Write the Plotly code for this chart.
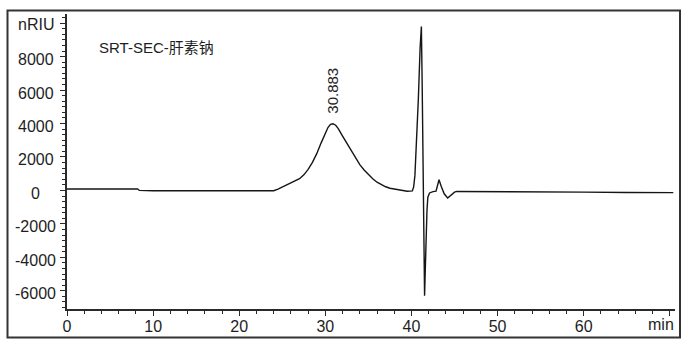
import plotly.graph_objects as go

# --- data (retention time in min, signal in nRIU) ---
time = [0, 4, 8.2, 8.4, 10, 15, 20, 24.0, 24.5, 25, 25.5, 26, 26.5, 27, 27.5, 28, 28.5,
        29, 29.5, 30, 30.3, 30.6, 30.883, 31.2, 31.5, 32, 32.5, 33, 33.5, 34, 34.5,
        35, 35.5, 36, 36.5, 37, 37.5, 38, 38.5, 39, 39.5, 40.1, 40.25, 40.4, 40.55,
        40.8, 41.0, 41.15, 41.25, 41.35, 41.45, 41.52, 41.6, 41.7, 41.8, 41.9, 42.1,
        42.5, 42.85, 43.0, 43.2, 43.45, 43.8, 44.2, 44.6, 45.0, 45.25, 47, 50, 55,
        60, 65, 70.4]
signal = [85, 85, 85, 0, -20, -20, 0, -20, 80, 200, 300, 420, 550, 700, 930, 1260, 1680,
          2200, 2830, 3420, 3760, 3950, 3990, 3900, 3700, 3250, 2820, 2380, 1950, 1540, 1220,
          930, 700, 490, 340, 220, 130, 80, 20, -20, -50, -30, 200, 900, 2500,
          5500, 8500, 9800, 6000, 0, -4500, -6300, -4800, -2500, -1200, -400, -150,
          -70, -40, 250, 640, 250, -200, -450, -250, -100, -60, -60, -80, -90,
          -100, -120, -130]

peak_time = 30.883
peak_value = 3990
peak_label = "30.883"
title_text = "SRT-SEC-肝素钠"
x_unit = "min"

x_tickvals = [0, 10, 20, 30, 40, 50, 60, 70]
x_ticktext = ["0", "10", "20", "30", "40", "50", "60", ""]
y_tickvals = [-6000, -4000, -2000, 0, 2000, 4000, 6000, 8000, 10000]
y_ticktext = ["-6000", "-4000", "-2000", "0", "2000", "4000", "6000", "8000", "nRIU"]

FONT = "Liberation Sans, Arial, Noto Sans CJK SC, sans-serif"
AX = "#2a2a2a"
TXT = "#1e1e1e"
FS = 16

fig = go.Figure()
fig.add_trace(go.Scatter(x=time, y=signal, mode="lines",
                         line=dict(color="#151515", width=1.4),
                         hoverinfo="skip", showlegend=False))

# plot geometry (pixels)
L, R, T, B = 67, 15, 14, 44.5
W = 690 - L - R
H = 354 - T - B

def px_x(p):
    return (p - L) / W

def px_y(p):
    return (354 - B - p) / H

annotations = []
for v, t in zip(y_tickvals, y_ticktext):
    annotations.append(dict(x=px_x(35.5), xref="paper", y=v, yref="y", text=t,
                            showarrow=False, xanchor="center", yanchor="middle",
                            yshift=-1 if t == "nRIU" else -3,
                            font=dict(family=FONT, size=FS, color=TXT)))
annotations.append(dict(x=peak_time, y=peak_value, xref="x", yref="y", text=peak_label,
                        textangle=-90, showarrow=False, xanchor="center", yanchor="bottom",
                        yshift=8, font=dict(family=FONT, size=15, color=TXT)))
annotations.append(dict(x=px_x(97), y=px_y(48), xref="paper", yref="paper", text=title_text,
                        showarrow=False, xanchor="left", yanchor="middle",
                        font=dict(family=FONT, size=15, color=TXT)))
annotations.append(dict(x=px_x(676), y=px_y(325), xref="paper", yref="paper", text=x_unit,
                        showarrow=False, xanchor="right", yanchor="middle",
                        font=dict(family=FONT, size=FS, color=TXT)))

fig.update_layout(
    width=690, height=354,
    margin=dict(l=L, r=R, t=T, b=B, pad=0),
    paper_bgcolor="white", plot_bgcolor="white",
    font=dict(family=FONT, size=FS, color=TXT),
    annotations=annotations,
    shapes=[dict(type="rect", xref="paper", yref="paper",
                 x0=px_x(7.5), x1=px_x(680), y0=px_y(338), y1=px_y(10.5),
                 line=dict(color="#333", width=2), fillcolor="rgba(0,0,0,0)")],
    xaxis=dict(range=[0, 70.6], tickmode="array", tickvals=x_tickvals, ticktext=x_ticktext,
               showgrid=False, zeroline=False, showline=True, linecolor=AX, linewidth=1.5,
               ticks="outside", ticklen=5, tickwidth=1.2, tickcolor=AX,
               ticklabelstandoff=-3,
               tickfont=dict(family=FONT, size=FS, color=TXT),
               minor=dict(tickmode="linear", tick0=0, dtick=2, ticks="outside", ticklen=3,
                          tickwidth=1, tickcolor=AX, showgrid=False)),
    yaxis=dict(range=[-7090, 10550], tickmode="array", tickvals=y_tickvals,
               showticklabels=False,
               showgrid=False, zeroline=False, showline=True, linecolor=AX, linewidth=1.5,
               ticks="outside", ticklen=5, tickwidth=1.2, tickcolor=AX,
               minor=dict(tickmode="linear", tick0=0, dtick=2000 / 6, ticks="outside",
                          ticklen=3, tickwidth=1, tickcolor=AX, showgrid=False)),
)

fig.write_html("out.html")
